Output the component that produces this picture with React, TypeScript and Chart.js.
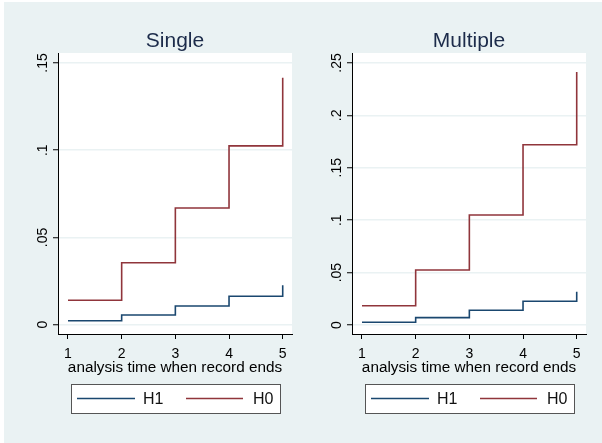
import React, { useEffect, useRef } from "react";
import { Chart, registerables } from "chart.js";

Chart.register(...registerables);

const FONT = '"Liberation Sans", Arial, sans-serif';

const xValues = [1, 2, 3, 4, 5];
const xTicks = [1, 2, 3, 4, 5];

const singleH1 = [0.0023, 0.0056, 0.0107, 0.0163, 0.0226];
const singleH0 = [0.014, 0.0355, 0.0669, 0.1025, 0.1416];
const singleYTicks = [0, 0.05, 0.1, 0.15];

const multipleH1 = [0.0026, 0.007, 0.014, 0.0226, 0.0318];
const multipleH0 = [0.0184, 0.0525, 0.105, 0.172, 0.2414];
const multipleYTicks = [0, 0.05, 0.1, 0.15, 0.2, 0.25];

const seriesLabels = ["H1", "H0"];
const xTitle = "analysis time when record ends";

const H1_COLOR = "#1a476f";
const H0_COLOR = "#90353b";
const TITLE_COLOR = "#1c2b4a";
const BG = "#eaf2f3";

const fmt = (v: number) => (v === 0 ? "0" : String(v).replace(/^0/, ""));

const W = 294;
const H = 441;

function makeDecor(title: string, yTicks: number[]) {
  return {
    id: "decor",
    beforeDraw(chart: any) {
      const { ctx, chartArea } = chart;
      ctx.save();
      ctx.fillStyle = "#ffffff";
      ctx.fillRect(chartArea.left, chartArea.top, chartArea.right - chartArea.left, chartArea.bottom - chartArea.top);
      ctx.restore();
    },
    afterDraw(chart: any) {
      const { ctx, chartArea } = chart;
      const xs = chart.scales.x;
      const ys = chart.scales.y;
      const cx = (chartArea.left + chartArea.right) / 2;
      ctx.save();
      // title
      ctx.fillStyle = TITLE_COLOR;
      ctx.font = `21px ${FONT}`;
      ctx.textAlign = "center";
      ctx.textBaseline = "alphabetic";
      ctx.fillText(title, cx, 44.7);
      // y tick labels (rotated)
      ctx.fillStyle = "#000";
      ctx.font = `14px ${FONT}`;
      yTicks.forEach((v) => {
        const py = ys.getPixelForValue(v);
        ctx.save();
        ctx.translate(42.7, py);
        ctx.rotate(-Math.PI / 2);
        ctx.textAlign = "center";
        ctx.textBaseline = "alphabetic";
        ctx.fillText(fmt(v), 0, 0);
        ctx.restore();
      });
      // x tick labels
      ctx.textAlign = "center";
      ctx.textBaseline = "alphabetic";
      ctx.font = `14px ${FONT}`;
      xTicks.forEach((v) => {
        ctx.fillText(String(v), xs.getPixelForValue(v), 355.7);
      });
      // x axis title
      ctx.font = `15.3px ${FONT}`;
      ctx.fillText(xTitle, cx, 369.7);
      // legend
      const bl = cx - 104;
      const bt = 382;
      const bw = 209;
      const bh = 29;
      ctx.fillStyle = "#fff";
      ctx.fillRect(bl, bt, bw, bh);
      ctx.strokeStyle = "#555";
      ctx.lineWidth = 1;
      ctx.strokeRect(bl + 0.5, bt + 0.5, bw, bh);
      const my = bt + bh / 2;
      const offs = [
        { l0: 6, l1: 64, t: 72 },
        { l0: 115, l1: 172, t: 182 },
      ];
      chart.data.datasets.forEach((ds: any, i: number) => {
        const o = offs[i];
        ctx.strokeStyle = ds.borderColor;
        ctx.lineWidth = 1.6;
        ctx.beginPath();
        ctx.moveTo(bl + o.l0, my);
        ctx.lineTo(bl + o.l1, my);
        ctx.stroke();
        ctx.fillStyle = "#111";
        ctx.font = `16px ${FONT}`;
        ctx.textAlign = "left";
        ctx.textBaseline = "alphabetic";
        ctx.fillText(ds.label, bl + o.t, my + 5.8);
      });
      ctx.restore();
    },
  };
}

function Panel(props: {
  title: string;
  h1: number[];
  h0: number[];
  yTicks: number[];
  yMin: number;
  yMax: number;
  left: number;
}) {
  const ref = useRef<HTMLCanvasElement>(null);
  useEffect(() => {
    if (!ref.current) return;
    const chart = new Chart(ref.current, {
      type: "line",
      data: {
        datasets: [
          {
            label: seriesLabels[0],
            data: xValues.map((x, i) => ({ x, y: props.h1[i] })),
            borderColor: H1_COLOR,
            borderWidth: 1.6,
            stepped: true,
            pointRadius: 0,
            fill: false,
          },
          {
            label: seriesLabels[1],
            data: xValues.map((x, i) => ({ x, y: props.h0[i] })),
            borderColor: H0_COLOR,
            borderWidth: 1.6,
            stepped: true,
            pointRadius: 0,
            fill: false,
          },
        ],
      },
      options: {
        responsive: false,
        animation: false,
        layout: { padding: { left: 0, right: 6, top: 51, bottom: 0 } },
        plugins: { legend: { display: false }, tooltip: { enabled: false }, title: { display: false } },
        scales: {
          x: {
            type: "linear",
            min: 0.814,
            max: 5.173,
            afterBuildTicks: (s: any) => {
              s.ticks = xTicks.map((v) => ({ value: v }));
            },
            afterFit: (s: any) => {
              s.height = H - 332;
            },
            ticks: { display: false },
            grid: { drawOnChartArea: false, drawTicks: true, tickLength: 5, tickColor: "#000", tickWidth: 1 },
            border: { display: true, color: "#000", width: 1 },
          },
          y: {
            type: "linear",
            min: props.yMin,
            max: props.yMax,
            afterBuildTicks: (s: any) => {
              s.ticks = props.yTicks.map((v) => ({ value: v }));
            },
            afterFit: (s: any) => {
              s.width = 54;
            },
            ticks: { display: false },
            grid: { color: BG, lineWidth: 1.5, drawTicks: true, tickLength: 5, tickColor: "#000", tickWidth: 1 },
            border: { display: true, color: "#000", width: 1 },
          },
        },
      } as any,
      plugins: [makeDecor(props.title, props.yTicks)],
    });
    return () => chart.destroy();
  }, []);
  return (
    <canvas
      ref={ref}
      width={W}
      height={H}
      style={{ position: "absolute", left: props.left, top: 2, width: W, height: H }}
    />
  );
}

export default function App() {
  useEffect(() => {
    document.body.style.margin = "0";
  }, []);
  return (
    <div style={{ position: "relative", width: 602, height: 443, background: "#fff", overflow: "hidden" }}>
      <div style={{ position: "absolute", left: 4, top: 2, width: 598, height: 441, background: BG }} />
      <Panel title="Single" h1={singleH1} h0={singleH0} yTicks={singleYTicks} yMin={-0.00533} yMax={0.15573} left={4} />
      <Panel title="Multiple" h1={multipleH1} h0={multipleH0} yTicks={multipleYTicks} yMin={-0.00859} yMax={0.2595} left={298} />
    </div>
  );
}
